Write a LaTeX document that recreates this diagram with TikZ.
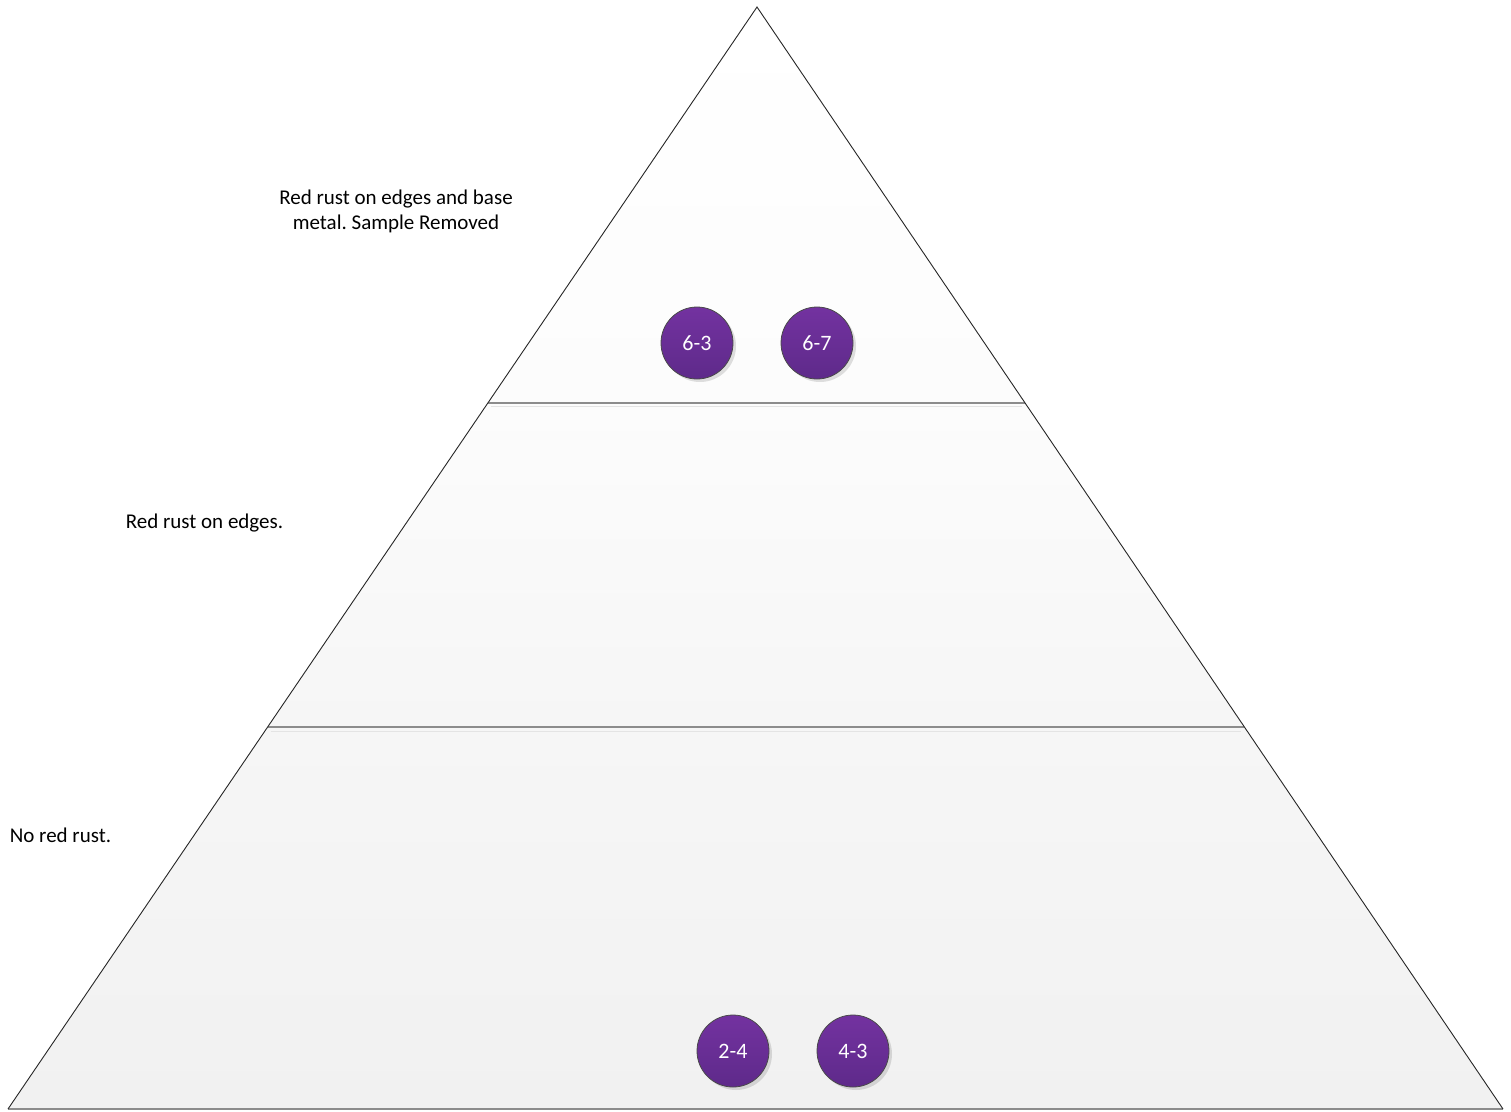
\documentclass[tikz,border=0pt]{standalone}
\usepackage{fontspec}
\setmainfont{Carlito}
\usetikzlibrary{calc,shadows}
\definecolor{discTop}{HTML}{7332A0}
\definecolor{discBot}{HTML}{5E2A8A}
\definecolor{discRim}{HTML}{4A4A4A}
\definecolor{divGray}{HTML}{8C8C8C}
\definecolor{bevelGray}{HTML}{E4E4E4}
\definecolor{layA}{HTML}{FCFCFC}
\definecolor{layB}{HTML}{F6F6F6}
\definecolor{layC}{HTML}{F1F1F1}
\tikzset{
  disc/.style={circle, minimum size=72pt, inner sep=0pt, draw=discRim, line width=0.8pt,
    top color=discTop, bottom color=discBot, text=white,
    font=\fontsize{22}{26}\selectfont,
    drop shadow={shadow xshift=3pt, shadow yshift=-3pt, fill=black, opacity=0.12}},
  lbl/.style={inner sep=0pt, align=center, text=black, font=\fontsize{21}{25}\selectfont},
  sideline/.style={draw=black!85, line width=0.9pt},
  baseedge/.style={draw=divGray, line width=1.6pt},
  divider/.style={draw=divGray, line width=1.6pt},
  bevel/.style={draw=bevelGray, line width=1pt}
}
\frenchspacing
\begin{document}
\begin{tikzpicture}[x=1pt,y=-1pt]
\useasboundingbox (0,0) rectangle (1511,1111);
\fill[white] (0,0) rectangle (1511,1111);
\coordinate (A) at (757,7);
\coordinate (L) at (8,1109);
\coordinate (R) at (1503,1109);
\coordinate (L1) at ($(A)!0.3593!(L)$);
\coordinate (R1) at ($(A)!0.3593!(R)$);
\coordinate (L2) at ($(A)!0.6534!(L)$);
\coordinate (R2) at ($(A)!0.6534!(R)$);
% layers
\shade[top color=white, bottom color=layA] (A) -- (L1) -- (R1) -- cycle;
\shade[top color=layA, bottom color=layB] (L1) -- (L2) -- (R2) -- (R1) -- cycle;
\shade[top color=layB, bottom color=layC] (L2) -- (L) -- (R) -- (R2) -- cycle;
% dividers
\draw[divider] (L1) -- (R1);
\draw[bevel] ($(L1)+(3,4)$) -- ($(R1)+(-3,4)$);
\draw[divider] (L2) -- (R2);
\draw[bevel] ($(L2)+(3,4)$) -- ($(R2)+(-3,4)$);
% outline
\draw[baseedge] (L) -- (R);
\draw[sideline] (L) -- (A) -- (R);
% discs
\node[disc] (d63) at (697,343) {6-3};
\node[disc] (d67) at (817,343) {6-7};
\node[disc] (d24) at (733,1051) {2-4};
\node[disc] (d43) at (853,1051) {4-3};
% labels
\node[lbl] (t1) at (396,211) {Red rust on edges and base\\metal. Sample Removed};
\node[lbl] (t2) at (204.5,523) {Red rust on edges.};
\node[lbl] (t3) at (60.5,835) {No red rust.};
\end{tikzpicture}
\end{document}
